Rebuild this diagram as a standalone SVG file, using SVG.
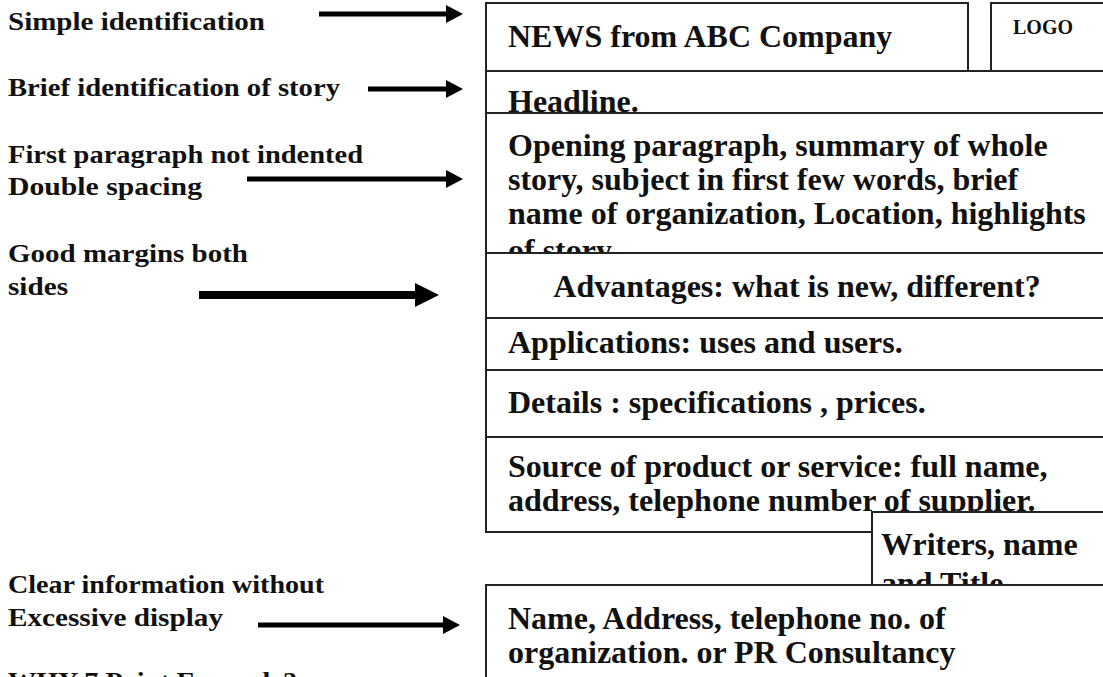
<svg xmlns="http://www.w3.org/2000/svg" width="1103" height="677" viewBox="0 0 1103 677">
  <style>
    .note { font-family: "Liberation Serif", "Times New Roman", serif; font-weight: bold; font-size: 26px; fill: #111; }
    .body { font-family: "Liberation Serif", "Times New Roman", serif; font-weight: bold; font-size: 32px; fill: #111; }
    .small { font-family: "Liberation Serif", "Times New Roman", serif; font-weight: bold; font-size: 20px; fill: #111; }
    .box { fill: #fff; stroke: #222; stroke-width: 2; }
    .shaft { stroke: #000; stroke-width: 5; }
    .thick { stroke: #000; stroke-width: 8; }
  </style>
  <defs>
    <marker id="head" markerUnits="userSpaceOnUse" markerWidth="17" markerHeight="18" refX="0" refY="9" orient="auto" overflow="visible">
      <path d="M0,0 L17,9 L0,18 z" fill="#000"/>
    </marker>
    <marker id="head-big" markerUnits="userSpaceOnUse" markerWidth="24" markerHeight="24" refX="0" refY="12" orient="auto" overflow="visible">
      <path d="M0,0 L24,12 L0,24 z" fill="#000"/>
    </marker>
  </defs>

  <rect width="1103" height="677" fill="#fff"/>

  <!-- side notes -->
  <g id="note-simple">
    <text class="note" x="8" y="30" textLength="257" lengthAdjust="spacingAndGlyphs">Simple identification</text>
  </g>
  <g id="note-brief">
    <text class="note" x="8" y="96" textLength="332" lengthAdjust="spacingAndGlyphs">Brief identification of story</text>
  </g>
  <g id="note-first">
    <text class="note" x="8" y="163" textLength="355" lengthAdjust="spacingAndGlyphs">First paragraph not indented</text>
    <text class="note" x="8" y="195" textLength="194" lengthAdjust="spacingAndGlyphs">Double spacing</text>
  </g>
  <g id="note-margins">
    <text class="note" x="8" y="262" textLength="240" lengthAdjust="spacingAndGlyphs">Good margins both</text>
    <text class="note" x="8" y="295" textLength="60" lengthAdjust="spacingAndGlyphs">sides</text>
  </g>
  <g id="note-clear">
    <text class="note" x="8" y="593" textLength="316" lengthAdjust="spacingAndGlyphs">Clear information without</text>
    <text class="note" x="8" y="626" textLength="215" lengthAdjust="spacingAndGlyphs">Excessive display</text>
  </g>
  <g id="note-why">
    <text class="note" x="8" y="690" textLength="289" lengthAdjust="spacingAndGlyphs">WHY 7 Point Example?</text>
  </g>

  <!-- layout blocks, drawn top to bottom so later blocks overlap earlier ones -->
  <g id="masthead">
    <rect class="box" x="486" y="3" width="482" height="68"/>
    <text class="body" x="508" y="47">NEWS from ABC Company</text>
  </g>
  <g id="logo">
    <rect class="box" x="991" y="3" width="130" height="68"/>
    <text class="small" x="1013" y="34">LOGO</text>
  </g>
  <g id="headline">
    <rect class="box" x="486" y="71" width="630" height="42"/>
    <text class="body" x="508" y="112">Headline.</text>
  </g>
  <g id="opening">
    <rect class="box" x="486" y="113" width="630" height="140"/>
    <text class="body" x="508" y="156">Opening paragraph, summary of whole</text>
    <text class="body" x="508" y="190">story, subject in first few words, brief</text>
    <text class="body" x="508" y="224">name of organization, Location, highlights</text>
    <text class="body" x="508" y="261">of story.</text>
  </g>
  <g id="advantages">
    <rect class="box" x="486" y="253" width="630" height="65"/>
    <text class="body" x="797" y="297" text-anchor="middle">Advantages: what is new, different?</text>
  </g>
  <g id="applications">
    <rect class="box" x="486" y="318" width="630" height="52"/>
    <text class="body" x="508" y="353">Applications: uses and users.</text>
  </g>
  <g id="details">
    <rect class="box" x="486" y="370" width="630" height="67"/>
    <text class="body" x="508" y="413">Details : specifications , prices.</text>
  </g>
  <g id="source">
    <rect class="box" x="486" y="437" width="630" height="95"/>
    <text class="body" x="508" y="477">Source of product or service: full name,</text>
    <text class="body" x="508" y="511">address, telephone number of supplier.</text>
  </g>
  <g id="writer">
    <rect class="box" x="872" y="512" width="250" height="73"/>
    <text class="body" x="881" y="555">Writers, name</text>
    <text class="body" x="881" y="594">and Title</text>
  </g>
  <g id="contact">
    <rect class="box" x="486" y="585" width="630" height="110"/>
    <text class="body" x="508" y="629">Name, Address, telephone no. of</text>
    <text class="body" x="508" y="663">organization. or  PR Consultancy</text>
  </g>

  <!-- pointers from notes to blocks -->
  <g id="connectors">
    <line class="shaft" x1="319" y1="14" x2="446" y2="14" marker-end="url(#head)"/>
    <line class="shaft" x1="368" y1="89" x2="446" y2="89" marker-end="url(#head)"/>
    <line class="shaft" x1="247" y1="179" x2="446" y2="179" marker-end="url(#head)"/>
    <line class="thick" x1="199" y1="295" x2="415" y2="295" marker-end="url(#head-big)"/>
    <line class="shaft" x1="258" y1="625" x2="443" y2="625" marker-end="url(#head)"/>
  </g>
</svg>
